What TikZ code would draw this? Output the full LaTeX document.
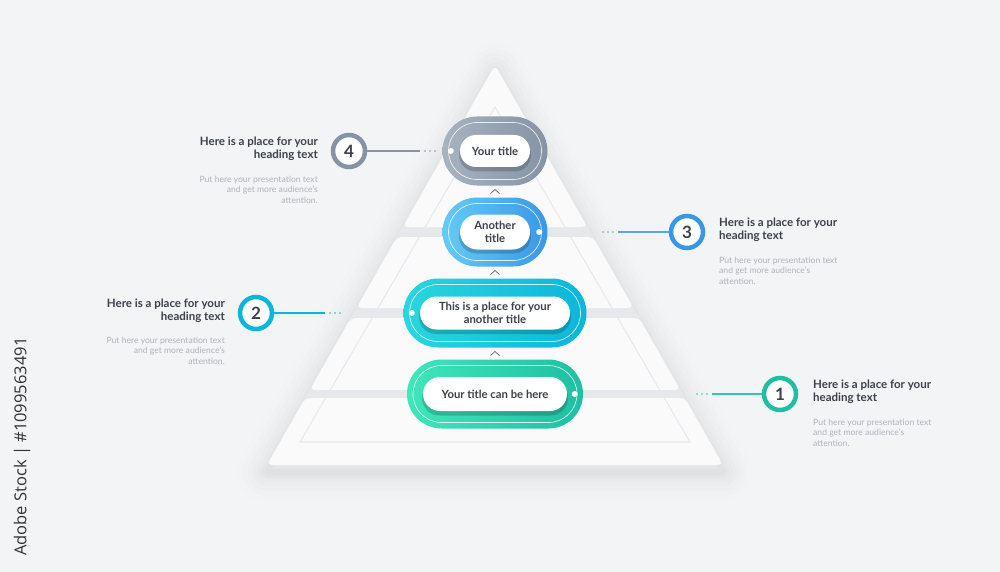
\documentclass[tikz,border=0pt]{standalone}
\usepackage{fontspec}
\setmainfont{Lato}
\newfontfamily\osans{Open Sans}
\usetikzlibrary{shapes.misc,calc}
\definecolor{bg}{HTML}{F3F4F6}
\definecolor{band}{HTML}{E7E8EB}
\definecolor{layer}{HTML}{FAFAFB}
\definecolor{innertri}{HTML}{E8E9EC}
\definecolor{txt}{HTML}{3B404B}
\definecolor{body}{HTML}{ADB3BD}
\definecolor{caret}{HTML}{6E7480}
\definecolor{gA}{HTML}{A8B3C0}\definecolor{gB}{HTML}{8593A5}
\definecolor{bA}{HTML}{64CBF6}\definecolor{bB}{HTML}{3A97E6}
\definecolor{cA}{HTML}{2AD6DE}\definecolor{cB}{HTML}{0BB6DB}
\definecolor{tA}{HTML}{3FE7BA}\definecolor{tB}{HTML}{1FBFA3}
\tikzset{
  pill/.style={rounded rectangle, inner sep=0pt, minimum height=69pt, draw=none},
  pillring/.style={rounded rectangle, inner sep=0pt, draw=white, line width=0.7pt, draw opacity=0.8, fill=none},
  pillshadow/.style={rounded rectangle, inner sep=0pt, fill=black, opacity=0.18},
  pilllabel/.style={rounded rectangle, inner sep=0pt, fill=white, text=txt, align=center,
     font=\bfseries\fontsize{11.3}{13}\selectfont},
  pdot/.style={circle, fill=white, inner sep=0pt, minimum size=6pt},
  num/.style={circle, fill=white, line width=4.5pt, minimum size=32pt, inner sep=0pt,
     text=txt, font=\bfseries\fontsize{17}{17}\selectfont},
  link/.style={line width=1.3pt},
  linkdots/.style={line width=1.6pt, line cap=round, dash pattern=on 0pt off 5pt},
  head/.style={inner sep=0pt, text=txt, font=\bfseries\fontsize{11.5}{13}\selectfont},
  bodytxt/.style={inner sep=0pt, text=body, font=\fontsize{8.6}{10.3}\selectfont},
  caretline/.style={draw=caret, line width=0.8pt},
}
\begin{document}
\begin{tikzpicture}[x=1pt,y=-1pt]
\fill[bg] (0,0) rectangle (1000,572);
\useasboundingbox (0,0) rectangle (1000,572);
% pyramid soft shadow
\foreach \w/\o in {60/0.005,48/0.006,38/0.008,28/0.01,20/0.012,12/0.014,6/0.016}
  \draw[line width=\w pt, draw=black, opacity=\o, line join=round]
    (495,72)--(723,472)--(267,472)--cycle;
% pyramid base (gaps)
\fill[band, rounded corners=5pt] (495,65)--(723,465)--(267,465)--cycle;
% layers
\fill[layer, rounded corners=5pt] (495,65)--(587.3,227)--(402.7,227)--cycle;
\fill[layer, rounded corners=5pt] (397,237)--(593,237)--(633.5,308)--(356.5,308)--cycle;
\fill[layer, rounded corners=5pt] (350.8,318)--(639.2,318)--(680.2,390)--(309.8,390)--cycle;
\fill[layer, rounded corners=5pt] (305.2,398)--(684.8,398)--(723,465)--(267,465)--cycle;
% inner faint triangle
\draw[innertri, line width=1.1pt] (495,107)--(690,442)--(300,442)--cycle;

% pills
\node[pill, minimum width=105pt, left color=gA, right color=gB] (p4) at (495,151) {};
\node[pill, minimum width=105pt, left color=bA, right color=bB] (p3) at (495,232) {};
\node[pill, minimum width=183pt, left color=cA, right color=cB] (p2) at (495,313) {};
\node[pill, minimum width=176pt, left color=tA, right color=tB] (p1) at (495,394) {};
\foreach \p/\w in {p4/105,p3/105,p2/183,p1/176}
  \node[pillring, minimum width=\w pt-12pt, minimum height=57pt] at (\p) {};
\node[pillshadow, minimum width=72pt, minimum height=33pt] at ($(p4)+(0,4)$) {};
\node[pillshadow, minimum width=72pt, minimum height=35pt] at ($(p3)+(0,4)$) {};
\node[pillshadow, minimum width=152pt, minimum height=34pt] at ($(p2)+(0,4)$) {};
\node[pillshadow, minimum width=146pt, minimum height=35pt] at ($(p1)+(0,4)$) {};
\node[pilllabel, minimum width=70pt, minimum height=32pt] (t4) at (p4) {Your title};
\node[pilllabel, minimum width=70pt, minimum height=35pt] (t3) at (p3) {Another\\title};
\node[pilllabel, minimum width=150pt, minimum height=33pt] (t2) at (p2) {This is a place for your\\another title};
\node[pilllabel, minimum width=144pt, minimum height=34pt] (t1) at (p1) {Your title can be here};
\node[pdot] (d4) at ($(p4.west)+(8.5,0)$) {};
\node[pdot] (d3) at ($(p3.east)+(-8.5,0)$) {};
\node[pdot] (d2) at ($(p2.west)+(8.5,0)$) {};
\node[pdot] (d1) at ($(p1.east)+(-8.5,0)$) {};

% carets
\foreach \a/\b in {p4/p3,p3/p2,p2/p1}
  \draw[caretline] ($($(\a.south)!0.5!(\b.north)$)+(-4.5,2)$) -- ++(4.5,-4) -- ++(4.5,4);

% number circles
\node[num, draw=gB] (n4) at (349,151) {4};
\node[num, draw=bB] (n3) at (687,232) {3};
\node[num, draw=cB] (n2) at (256,313) {2};
\node[num, draw=tB] (n1) at (780,394) {1};

% connectors
\coordinate (e4) at (420,151); \coordinate (f4a) at (425,151); \coordinate (f4b) at (435,151);
\coordinate (e3) at (618,232); \coordinate (f3a) at (613,232); \coordinate (f3b) at (603,232);
\coordinate (e2) at (325,313); \coordinate (f2a) at (330,313); \coordinate (f2b) at (340,313);
\coordinate (e1) at (712,394); \coordinate (f1a) at (707,394); \coordinate (f1b) at (697,394);
\draw[link, gB] (n4.east) -- (e4); \draw[linkdots, gB] (f4a) -- (f4b);
\draw[link, bB!85!white] (n3.west) -- (e3); \draw[linkdots, bB!85!white] (f3a) -- (f3b);
\draw[link, cB] (n2.east) -- (e2); \draw[linkdots, cB] (f2a) -- (f2b);
\draw[link, tB!90!white] (n1.west) -- (e1); \draw[linkdots, tB!90!white] (f1a) -- (f1b);

% texts
\node[head, anchor=north east, align=right] (h4) at (318,137) {Here is a place for your\\heading text};
\node[bodytxt, anchor=north east, align=right] (b4) at (318,176) {Put here your presentation text\\and get more audience's\\attention.};
\node[head, anchor=north east, align=right] (h2) at (225,299) {Here is a place for your\\heading text};
\node[bodytxt, anchor=north east, align=right] (b2) at (225,337) {Put here your presentation text\\and get more audience's\\attention.};
\node[head, anchor=north west, align=left] (h3) at (719,218) {Here is a place for your\\heading text};
\node[bodytxt, anchor=north west, align=left] (b3) at (719,257) {Put here your presentation text\\and get more audience's\\attention.};
\node[head, anchor=north west, align=left] (h1) at (813,380) {Here is a place for your\\heading text};
\node[bodytxt, anchor=north west, align=left] (b1) at (813,419) {Put here your presentation text\\and get more audience's\\attention.};

% side label
\node[rotate=90, anchor=west, inner sep=0pt, text=black!80, font=\osans\fontsize{16.5}{16.5}\selectfont] (side) at (22,556) {Adobe Stock | \#1099563491};
\end{tikzpicture}
\end{document}
